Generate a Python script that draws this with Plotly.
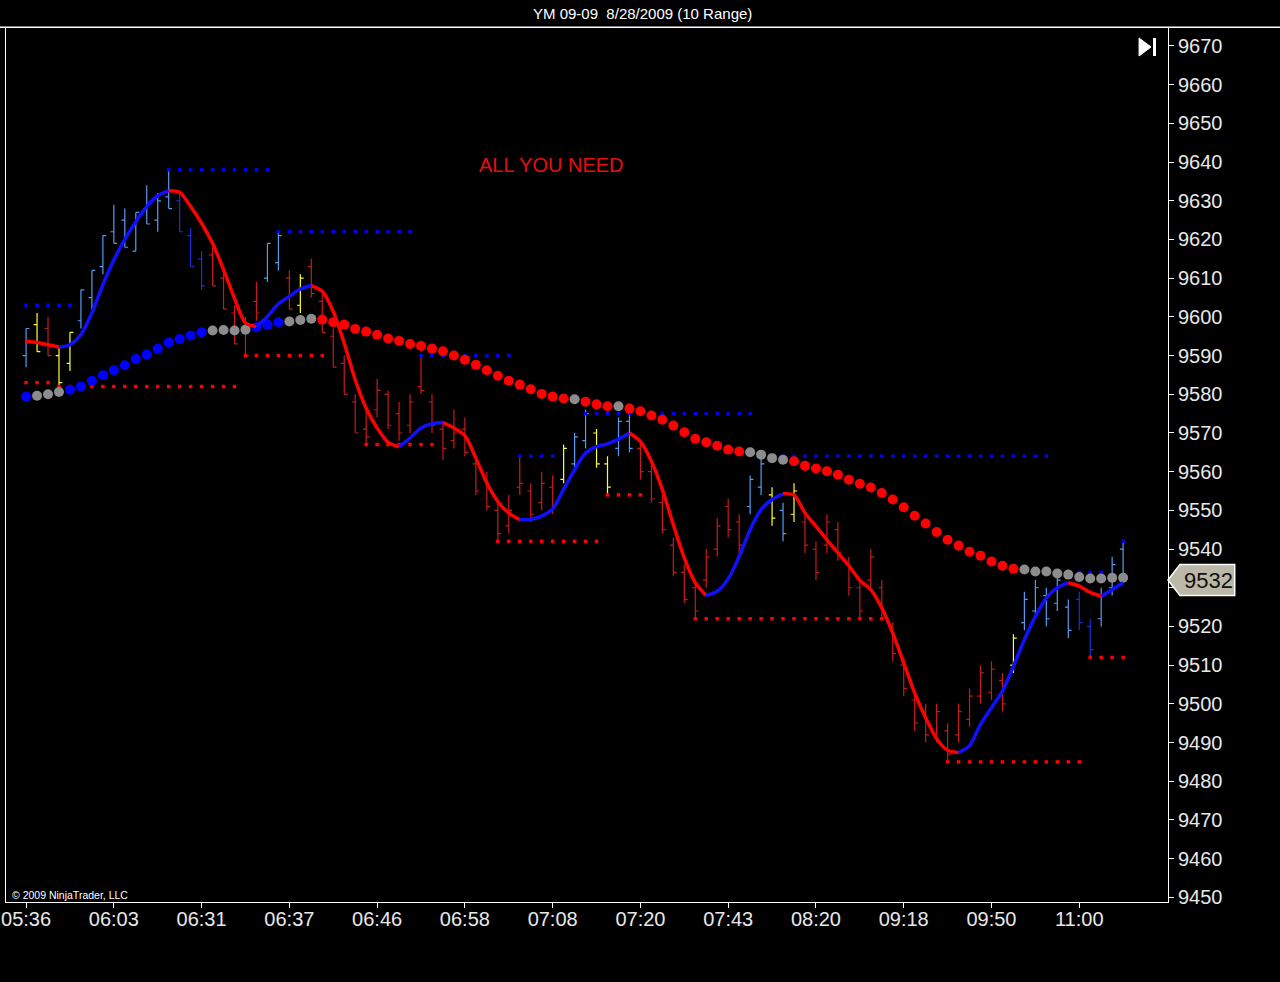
import plotly.graph_objects as go

# range bars, one per index
highs = [9597, 9601, 9600, 9592, 9596, 9607, 9612, 9621, 9629, 9628,
         9627, 9634, 9632, 9638, 9632, 9623, 9617, 9618, 9612, 9603,
         9600, 9609, 9619, 9622, 9612, 9611, 9615, 9606, 9597, 9590,
         9580, 9577, 9584, 9581, 9578, 9580, 9590, 9580, 9573, 9576,
         9574, 9564, 9560, 9552, 9554, 9564, 9557, 9560, 9559, 9567,
         9570, 9576, 9571, 9564, 9574, 9575, 9568, 9562, 9554, 9543,
         9536, 9532, 9540, 9548, 9553, 9549, 9559, 9564, 9556, 9552,
         9557, 9549, 9542, 9549, 9547, 9538, 9532, 9540, 9532, 9521,
         9512, 9503, 9500, 9500, 9495, 9500, 9504, 9510, 9511, 9508,
         9518, 9529, 9532, 9530, 9534, 9527, 9529, 9522, 9530, 9538,
         9542]
lows = [9587, 9591, 9590, 9582, 9586, 9597, 9602, 9611, 9619, 9618,
        9617, 9624, 9622, 9628, 9622, 9613, 9607, 9608, 9602, 9593,
        9590, 9599, 9609, 9612, 9602, 9601, 9605, 9596, 9587, 9580,
        9570, 9567, 9574, 9571, 9568, 9570, 9580, 9570, 9563, 9566,
        9564, 9554, 9550, 9542, 9544, 9554, 9547, 9550, 9549, 9557,
        9560, 9566, 9561, 9554, 9564, 9565, 9558, 9552, 9544, 9533,
        9526, 9522, 9530, 9538, 9543, 9539, 9549, 9554, 9546, 9542,
        9547, 9539, 9532, 9539, 9537, 9528, 9522, 9530, 9522, 9511,
        9502, 9493, 9490, 9490, 9485, 9490, 9494, 9500, 9501, 9498,
        9508, 9519, 9522, 9520, 9524, 9517, 9519, 9512, 9520, 9528,
        9532]
opens = [9590, 9598, 9597, 9590, 9588, 9599, 9605, 9613, 9622, 9625,
         9617, 9628, 9625, 9631, 9630, 9621, 9615, 9616, 9610, 9601,
         9597, 9604, 9610, 9614, 9610, 9603, 9613, 9604, 9595, 9588,
         9578, 9571, 9576, 9580, 9575, 9572, 9582, 9578, 9571, 9568,
         9571, 9562, 9558, 9550, 9546, 9556, 9555, 9552, 9556, 9558,
         9562, 9568, 9570, 9562, 9566, 9573, 9566, 9560, 9552, 9541,
         9534, 9530, 9532, 9540, 9551, 9547, 9551, 9556, 9554, 9550,
         9549, 9547, 9540, 9541, 9545, 9536, 9530, 9532, 9530, 9519,
         9510, 9501, 9498, 9492, 9493, 9492, 9496, 9502, 9503, 9506,
         9510, 9521, 9524, 9528, 9526, 9525, 9527, 9520, 9522, 9530,
         9540]
closes = [9597, 9591, 9590, 9583, 9596, 9607, 9612, 9621, 9619, 9618,
          9627, 9624, 9630, 9628, 9622, 9613, 9608, 9608, 9602, 9593,
          9590, 9601, 9619, 9621, 9602, 9610, 9606, 9596, 9587, 9580,
          9570, 9569, 9581, 9572, 9570, 9578, 9581, 9572, 9566, 9570,
          9565, 9555, 9551, 9544, 9550, 9557, 9549, 9557, 9551, 9566,
          9569, 9575, 9562, 9556, 9573, 9566, 9560, 9553, 9545, 9534,
          9527, 9524, 9538, 9546, 9545, 9541, 9558, 9562, 9548, 9544,
          9555, 9541, 9534, 9547, 9539, 9530, 9524, 9538, 9524, 9513,
          9504, 9495, 9492, 9498, 9487, 9498, 9502, 9508, 9509, 9500,
          9517, 9527, 9530, 9522, 9532, 9519, 9521, 9514, 9528, 9536,
          9532]
# bar paint: l = light blue, d = dark blue, r = red, y = yellow
bar_colors = list("lyryy" "lllllllll" "dddrrrrr" "llry" "rrrrrrrrrrrrrrrrrrrrrrr"
                  "yllyyllrrrrrrrrrrllylyrrrrrrrrrrrrrrrrrrryllllldd" "lll")

# fast smoothed average (thick line) and where its colour flips
fast_ma = [9593.7, 9593.4, 9592.8, 9592.2, 9592.8, 9595.4, 9601.0, 9608.3, 9614.7, 9620.0,
           9624.6, 9628.5, 9631.3, 9632.6, 9632.2, 9628.5, 9624.2, 9619.0, 9612.2, 9604.8,
           9598.4, 9597.5, 9600.1, 9603.4, 9605.3, 9607.2, 9608.1, 9606.6, 9601.4, 9593.2,
           9583.8, 9576.4, 9571.3, 9567.6, 9566.4, 9568.7, 9571.3, 9572.4, 9572.7, 9571.3,
           9569.3, 9563.5, 9557.1, 9552.3, 9549.3, 9547.6, 9547.7, 9548.5, 9550.4, 9555.4,
           9560.5, 9564.8, 9566.5, 9567.2, 9568.4, 9570.0, 9567.8, 9562.7, 9555.4, 9546.3,
           9537.7, 9531.3, 9528.0, 9529.1, 9532.3, 9538.1, 9545.0, 9550.2, 9552.8, 9554.3,
           9554.0, 9549.3, 9545.9, 9542.4, 9539.0, 9535.7, 9531.9, 9529.5, 9524.8, 9518.3,
           9510.6, 9502.8, 9496.4, 9491.0, 9488.0, 9487.4, 9489.2, 9494.7, 9499.0, 9503.3,
           9509.7, 9516.6, 9522.6, 9527.4, 9530.0, 9531.3, 9530.4, 9528.8, 9527.8, 9529.5,
           9531.3]
fast_turns = [0, 3, 13, 21, 26, 34, 38, 45, 55, 62, 69, 85, 95, 98, 100]
fast_first = "r"

# slow average (big dots): r = falling, b = rising, g = flat
slow_ma = [9579.4, 9579.6, 9580.0, 9580.6, 9581.2, 9582.0, 9583.5, 9584.9, 9586.2, 9587.5,
           9589.1, 9590.3, 9591.8, 9593.4, 9594.3, 9595.2, 9596.0, 9596.5, 9596.6, 9596.5,
           9596.7, 9597.3, 9598.0, 9598.6, 9598.8, 9599.2, 9599.5, 9599.3, 9598.6, 9598.0,
           9596.9, 9596.2, 9595.4, 9594.4, 9593.8, 9593.0, 9592.5, 9591.8, 9591.1, 9590.0,
           9588.9, 9587.6, 9586.2, 9584.8, 9583.5, 9582.5, 9581.3, 9580.1, 9579.4, 9578.9,
           9578.7, 9578.1, 9577.4, 9576.9, 9576.9, 9576.3, 9575.6, 9574.5, 9573.4, 9571.9,
           9570.2, 9568.5, 9567.6, 9566.7, 9565.7, 9565.2, 9565.0, 9564.4, 9563.5, 9563.1,
           9562.7, 9561.5, 9560.8, 9560.1, 9559.2, 9557.9, 9556.9, 9555.9, 9554.5, 9552.8,
           9550.8, 9548.6, 9546.6, 9544.4, 9542.4, 9540.9, 9539.3, 9538.3, 9536.8, 9535.7,
           9534.9, 9534.7, 9534.2, 9534.2, 9533.7, 9533.4, 9532.8, 9532.4, 9532.4, 9532.6,
           9532.6]
slow_colors = list("bgggbbbbbbbbbbbbbggggbbbggg" "rrrrrrrrrrrrrrrrrrrrrrr" "grrrg"
                   "rrrrrrrrrrrgggg" "rrrrrrrrrrrrrrrrrrrrr" "gggggggggg")

# swing high / low levels (dotted lines)
swing_high_levels = [9603, 9638, 9622, 9590, 9564, 9575, 9564, 9534, 9542]
swing_high_start = [0, 13, 23, 36, 45, 51, 67, 94, 100]
swing_high_end = [4, 22, 35, 44, 48, 66, 93, 98, 100]
swing_low_levels = [9583, 9582, 9590, 9567, 9542, 9554, 9522, 9485, 9512]
swing_low_start = [0, 3, 20, 31, 43, 53, 61, 84, 97]
swing_low_end = [2, 19, 27, 37, 52, 56, 78, 96, 100]

time_ticks = [0, 8, 16, 24, 32, 40, 48, 56, 64, 72, 80, 88, 96]
time_labels = ['05:36', '06:03', '06:31', '06:37', '06:46', '06:58', '07:08',
               '07:20', '07:43', '08:20', '09:18', '09:50', '11:00']
price_ticks = list(range(9450, 9680, 10))

bar_palette = {'l': '#559cf0', 'd': '#1c2fd6', 'r': '#c81a1a', 'y': '#ffff33'}
line_palette = {'r': '#ff0000', 'b': '#1010ff'}
dot_palette = {'r': '#ff0000', 'b': '#0000ff', 'g': '#8c8c8c'}

fig = go.Figure()

for key, col in bar_palette.items():
    idx = [i for i, c in enumerate(bar_colors) if c == key]
    fig.add_trace(go.Ohlc(x=idx,
                          open=[opens[i] for i in idx], high=[highs[i] for i in idx],
                          low=[lows[i] for i in idx], close=[closes[i] for i in idx],
                          increasing=dict(line=dict(color=col, width=1.2)),
                          decreasing=dict(line=dict(color=col, width=1.2)),
                          tickwidth=0.3, hoverinfo='skip', showlegend=False))

# swing levels
hx, hy, lx, ly = [], [], [], []
for lev, a, b in zip(swing_high_levels, swing_high_start, swing_high_end):
    for i in range(a, b + 1):
        hx.append(i)
        hy.append(lev)
for lev, a, b in zip(swing_low_levels, swing_low_start, swing_low_end):
    for i in range(a, b + 1):
        lx.append(i)
        ly.append(lev)
fig.add_trace(go.Scatter(x=hx, y=hy, mode='markers', hoverinfo='skip', showlegend=False,
                         marker=dict(symbol='square', size=3.5, color='#0000ff', line=dict(width=0))))
fig.add_trace(go.Scatter(x=lx, y=ly, mode='markers', hoverinfo='skip', showlegend=False,
                         marker=dict(symbol='square', size=3.5, color='#ff0000', line=dict(width=0))))

# slow average dots
fig.add_trace(go.Scatter(x=list(range(len(slow_ma))), y=slow_ma, mode='markers',
                         hoverinfo='skip', showlegend=False,
                         marker=dict(symbol='circle', size=10, line=dict(width=0),
                                     color=[dot_palette[c] for c in slow_colors])))

# fast average, coloured by direction
col = fast_first
for a, b in zip(fast_turns[:-1], fast_turns[1:]):
    fig.add_trace(go.Scatter(x=list(range(a, b + 1)), y=fast_ma[a:b + 1], mode='lines',
                             line=dict(color=line_palette[col], width=3.5, shape='spline', smoothing=0.8),
                             hoverinfo='skip', showlegend=False))
    col = 'b' if col == 'r' else 'r'

last_price = closes[-1]
# the price tag hides the label it sits on
price_text = [str(v) if abs(v - last_price) > 5 else '' for v in price_ticks]
W = 1167.0  # plot width in px, used for paper offsets

fig.update_layout(
    width=1280, height=982,
    margin=dict(l=1, r=112, t=28, b=80),
    paper_bgcolor='black', plot_bgcolor='black',
    font=dict(family='Liberation Sans, Arial, sans-serif', color='#e8e8e8'),
    xaxis=dict(range=[-1.83, 104.09], tickvals=time_ticks, ticktext=time_labels,
               showgrid=False, zeroline=False, showline=True, linecolor='white', linewidth=1,
               ticks='outside', ticklen=5, tickcolor='white', tickfont=dict(size=20, color='#e8e8e8'),
               ticklabeloverflow='allow', ticklabelstandoff=-6,
               rangeslider=dict(visible=False), fixedrange=True),
    yaxis=dict(range=[9448.8, 9674.65], side='right', tickvals=price_ticks, ticktext=price_text,
               showgrid=False, zeroline=False, showline=True, linecolor='white', linewidth=1,
               mirror=True, ticks='outside', ticklen=5, tickcolor='white',
               tickfont=dict(size=20, color='#e8e8e8'), fixedrange=True),
    shapes=[
        dict(type='line', xref='paper', yref='paper', x0=-0.01, x1=1.1, y0=1.001, y1=1.001,
             line=dict(color='white', width=1.5)),
        dict(type='path', xref='paper', yref='paper',
             path='M 0.9751,0.98856 L 0.9854,0.97826 L 0.9751,0.96796 Z',
             fillcolor='white', line=dict(color='white', width=1)),
        dict(type='rect', xref='paper', yref='paper', x0=0.9871, x1=0.9897, y0=0.96796, y1=0.98856,
             fillcolor='white', line=dict(width=0)),
        dict(type='path', xref='paper', yref='y',
             path='M 1.0,{p} L {a},{t} L {c},{t} L {c},{bt} L {a},{bt} Z'.format(
                 p=last_price, a=12 / W + 1, c=67 / W + 1, t=last_price + 4.0, bt=last_price - 4.0),
             fillcolor='#bcb8a8', line=dict(color='white', width=1.5)),
    ],
    annotations=[
        dict(text='YM 09-09  8/28/2009 (10 Range)', xref='paper', yref='paper',
             x=(640 - 1) / W, y=(902 - 13) / 874.0, xanchor='center', yanchor='middle',
             showarrow=False, font=dict(size=15, color='white')),
        dict(text='ALL YOU NEED', xref='paper', yref='paper',
             x=(549 - 1) / W, y=(902 - 165) / 874.0, xanchor='center', yanchor='middle',
             showarrow=False, font=dict(size=20, color='#e41010')),
        dict(text='© 2009 NinjaTrader, LLC', xref='paper', yref='paper',
             x=(5 - 1) / W, y=(902 - 895) / 874.0, xanchor='left', yanchor='middle',
             showarrow=False, font=dict(size=10.5, color='white')),
        dict(text=str(last_price), xref='paper', yref='y', x=1 + 41 / W, y=last_price,
             xanchor='center', yanchor='middle',
             showarrow=False, font=dict(size=22, color='#111111')),
    ],
)

fig.write_html("out.html", config={'displayModeBar': False},
               post_script="document.body.style.margin='0px';")
